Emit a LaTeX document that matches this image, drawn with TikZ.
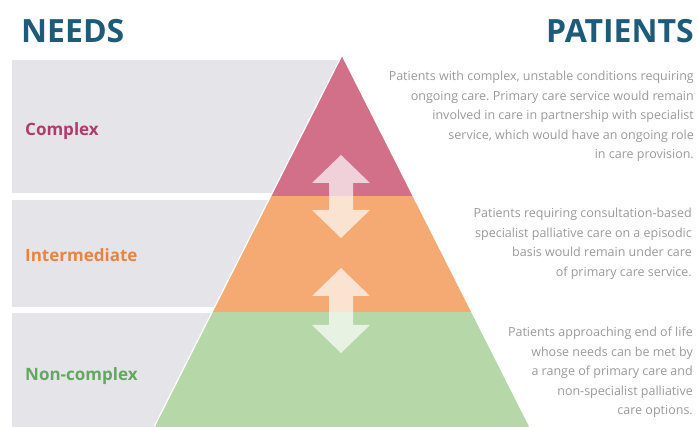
\documentclass[tikz,border=0pt]{standalone}
\usepackage{fontspec}
\setmainfont{Open Sans}
\newfontfamily\titlefont{Open Sans}
\newfontfamily\labelfont{Open Sans}
\frenchspacing
\definecolor{bandgray}{HTML}{E5E5E9}
\definecolor{pyrred}{HTML}{D2708A}
\definecolor{pyrorange}{HTML}{F4AA72}
\definecolor{pyrgreen}{HTML}{B6D7A8}
\definecolor{titleblue}{HTML}{1E5B78}
\definecolor{lblred}{HTML}{B23A6E}
\definecolor{lblorange}{HTML}{E9843F}
\definecolor{lblgreen}{HTML}{62A85E}
\definecolor{bodygray}{HTML}{9A9A9A}
\tikzset{
  band/.style={fill=bandgray, draw=none},
  tier/.style={draw=white, line width=1.2pt, line join=miter},
  dblarrow/.style={fill=white, fill opacity=0.68, draw=none},
  heading/.style={font=\titlefont\bfseries\fontsize{32}{32}\selectfont, text=titleblue, inner sep=0pt},
  needlabel/.style={font=\labelfont\bfseries\fontsize{17}{18}\selectfont, inner sep=0pt, anchor=west},
  desc/.style={font=\frenchspacing\fontsize{12.5}{19.5}\selectfont, text=bodygray, align=right, inner sep=0pt, anchor=north east}
}
\begin{document}
\begin{tikzpicture}[x=1pt,y=-1pt]
\useasboundingbox (0,0) rectangle (697,427);
% gray bands
\fill[band] (12,60) rectangle (342,193);
\fill[band] (12,200) rectangle (342,307);
\fill[band] (12,313) rectangle (342,427);
% pyramid tiers
\coordinate (apex) at (342,55);
\coordinate (l1) at (270.7,196);
\coordinate (r1) at (413.3,196);
\coordinate (l2) at (212.1,312);
\coordinate (r2) at (471.9,312);
\coordinate (bl) at (154,427);
\coordinate (br) at (530,427);
\fill[pyrgreen] (l2) -- (r2) -- (br) -- (bl) -- cycle;
\fill[pyrorange] (l1) -- (r1) -- (r2) -- (l2) -- cycle;
\fill[pyrred] (apex) -- (r1) -- (l1) -- cycle;
\draw[tier] (bl) -- (apex) -- (br);
% double arrows
\fill[dblarrow] (341,155) -- (370,183) -- (353,183) -- (353,210) -- (370,210) -- (341,238) -- (312,210) -- (329,210) -- (329,183) -- (312,183) -- cycle;
\fill[dblarrow] (341,268) -- (370,296) -- (353,296) -- (353,325) -- (370,325) -- (341,353) -- (312,325) -- (329,325) -- (329,296) -- (312,296) -- cycle;
% headings
\node[heading, anchor=west] (needs) at (21,31) {NEEDS};
\node[heading, anchor=east] (patients) at (694,31) {PATIENTS};
% need labels
\node[needlabel, text=lblred] (complex) at (25,131) {Complex};
\node[needlabel, text=lblorange] (intermediate) at (25,255) {Intermediate};
\node[needlabel, text=lblgreen] (noncomplex) at (25,376) {Non-complex};
% descriptions
\node[desc] (d1) at (694,71) {Patients with complex, unstable conditions requiring\\ongoing care. Primary care service would remain\\involved in care in partnership with specialist\\service, which would have an ongoing role\\in care provision.};
\node[desc] (d2) at (692,208) {Patients requiring consultation-based\\specialist palliative care on a episodic\\basis would remain under care\\of primary care service.};
\node[desc] (d3) at (693,327) {Patients approaching end of life\\whose needs can be met by\\a range of primary care and\\non-specialist palliative\\care options.};
\end{tikzpicture}
\end{document}
